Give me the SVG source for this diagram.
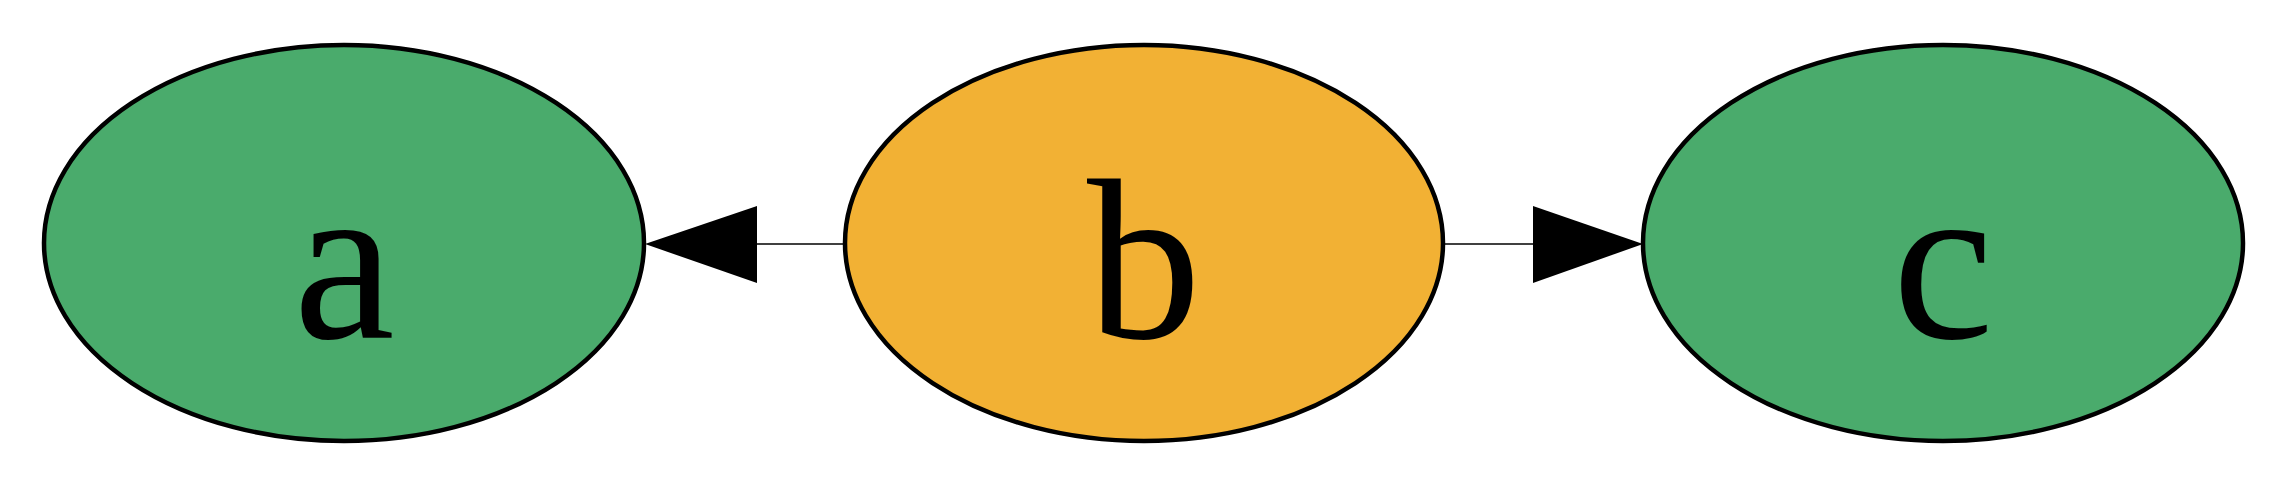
<svg xmlns="http://www.w3.org/2000/svg" width="2289" height="489" viewBox="0 0 2289 489">
<defs>
<style>
.nodeshape{stroke:#000000;stroke-width:4.5}
.label{font-family:"Liberation Serif","Times New Roman",serif;font-size:228px;text-anchor:middle;fill:#000000}
</style>
</defs>
<rect width="2289" height="489" fill="#ffffff"/>
<g id="edges">
<g class="edge" id="b-a"><line x1="845" y1="244" x2="756" y2="244" stroke="#000" stroke-width="1.5"/><polygon points="757,206 645,244 757,283" fill="#000"/></g>
<g class="edge" id="b-c"><line x1="1443" y1="244" x2="1534" y2="244" stroke="#000" stroke-width="1.5"/><polygon points="1533,206 1643,244 1533,283" fill="#000"/></g>
</g>
<g id="a"><ellipse class="nodeshape" cx="344" cy="243" rx="300" ry="198" fill="#4aab6c"/><text class="label" x="344" y="338">a</text></g>
<g id="b"><ellipse class="nodeshape" cx="1144" cy="243" rx="299" ry="198" fill="#f2b134"/><text class="label" x="1144" y="338">b</text></g>
<g id="c"><ellipse class="nodeshape" cx="1943" cy="243" rx="300" ry="198" fill="#4aab6c"/><text class="label" x="1943" y="338">c</text></g>
</svg>
